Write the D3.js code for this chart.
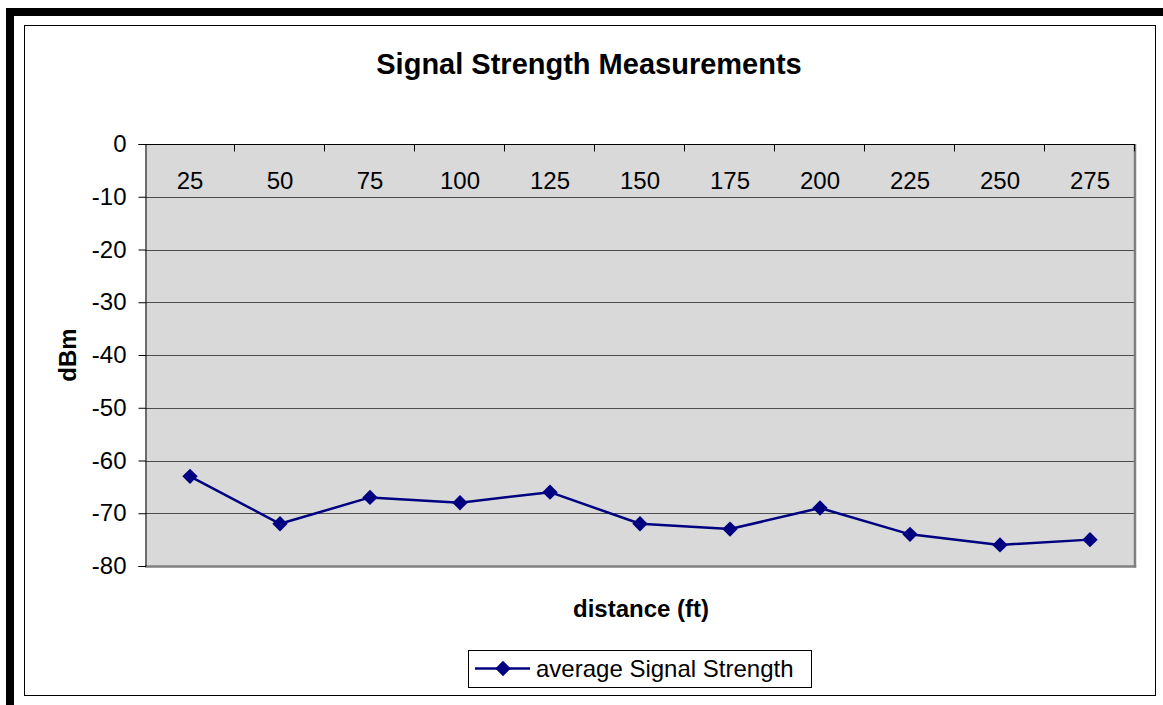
<!DOCTYPE html>
<html>
<head>
<meta charset="utf-8">
<script src="https://cdn.jsdelivr.net/npm/d3@7"></script>
<style>
  html, body { margin: 0; padding: 0; background: #fff; }
  svg { display: block; font-family: "Liberation Sans", Arial, sans-serif; }
</style>
</head>
<body>
<svg id="chart" width="1163" height="705"></svg>
<script>
// Average signal strength per measured distance
const distances = ["25", "50", "75", "100", "125", "150", "175", "200", "225", "250", "275"];
const signalDbm = [-63, -72, -67, -68, -66, -72, -73, -69, -74, -76, -75];
const yTicks = [0, -10, -20, -30, -40, -50, -60, -70, -80];
const seriesName = "average Signal Strength";

const svg = d3.select("#chart");
const W = 1163, H = 705;
const plot = { left: 145, top: 144, right: 1135, bottom: 566 };
const navy = "#000080";
const FONT = "Liberation Sans, Arial, sans-serif";

// outer thick frame (top and left edges)
svg.append("rect").attr("x", 6).attr("y", 8).attr("width", W - 6).attr("height", 8).attr("fill", "#000");
svg.append("rect").attr("x", 6).attr("y", 8).attr("width", 8).attr("height", H - 8).attr("fill", "#000");

// chart area border
svg.append("rect").attr("x", 24.5).attr("y", 25.5).attr("width", 1131).attr("height", 670)
  .attr("fill", "#fff").attr("stroke", "#000").attr("stroke-width", 1);

const x = d3.scaleBand().domain(distances).range([plot.left, plot.right]).paddingInner(0).paddingOuter(0);
const y = d3.scaleLinear().domain([-80, 0]).range([plot.bottom, plot.top]);
const cx = d => x(d) + x.bandwidth() / 2;

// plot background
svg.append("rect").attr("x", plot.left).attr("y", plot.top)
  .attr("width", plot.right - plot.left).attr("height", plot.bottom - plot.top)
  .attr("fill", "#d9d9d9");

// horizontal gridlines
svg.append("g").selectAll("line").data(yTicks.filter(d => d !== 0 && d !== -80)).join("line")
  .attr("x1", plot.left).attr("x2", plot.right)
  .attr("y1", d => Math.round(y(d)) + 0.5).attr("y2", d => Math.round(y(d)) + 0.5)
  .attr("stroke", "#4d4d4d").attr("stroke-width", 1);

// plot border: right and bottom in gray
svg.append("line").attr("x1", plot.right).attr("x2", plot.right).attr("y1", plot.top).attr("y2", plot.bottom + 1.5)
  .attr("stroke", "#808080").attr("stroke-width", 2.5);
svg.append("line").attr("x1", plot.left).attr("x2", plot.right + 1.2).attr("y1", plot.bottom + 0.5).attr("y2", plot.bottom + 0.5)
  .attr("stroke", "#808080").attr("stroke-width", 2.5);

// y axis
const yAxis = d3.axisLeft(y).tickValues(yTicks).tickSize(7).tickPadding(12)
  .tickFormat(d => String(d));
const gy = svg.append("g").attr("transform", `translate(${plot.left + 0.5},0)`).call(yAxis);
gy.select(".domain").attr("stroke", "#000");
gy.selectAll(".tick line").attr("stroke", "#000");
gy.selectAll(".tick text").attr("font-size", 24).attr("fill", "#000").attr("font-family", FONT);

// x axis sits at the value 0 line (top of plot), ticks at category boundaries
const gx = svg.append("g").attr("transform", `translate(0,${plot.top + 0.5})`);
gx.append("line").attr("x1", plot.left).attr("x2", plot.right).attr("y1", 0).attr("y2", 0)
  .attr("stroke", "#000").attr("stroke-width", 1);
const bounds = distances.map(d => x(d)).concat([plot.right]).slice(1);
gx.selectAll("line.tk").data(bounds).join("line").attr("class", "tk")
  .attr("x1", d => Math.round(d) - 0.5).attr("x2", d => Math.round(d) - 0.5)
  .attr("y1", 0).attr("y2", 7).attr("stroke", "#000");
gx.selectAll("text").data(distances).join("text")
  .attr("x", cx).attr("y", 44)
  .attr("text-anchor", "middle").attr("font-size", 24).attr("fill", "#000")
  .text(d => d);

// series line and diamond markers
const line = d3.line().x((d, i) => cx(distances[i])).y(d => y(d));
svg.append("path").datum(signalDbm).attr("d", line)
  .attr("fill", "none").attr("stroke", navy).attr("stroke-width", 2.5).attr("stroke-linejoin", "round");

const diamond = d3.symbol().type(d3.symbolSquare).size(118);
svg.append("g").selectAll("path").data(signalDbm).join("path")
  .attr("transform", (d, i) => `translate(${cx(distances[i])},${y(d)}) rotate(45)`)
  .attr("d", diamond)
  .attr("fill", navy);

// title and axis titles
svg.append("text").attr("x", 589).attr("y", 74).attr("text-anchor", "middle")
  .attr("font-size", 29).attr("font-weight", "bold").text("Signal Strength Measurements");
svg.append("text").attr("x", 641).attr("y", 617).attr("text-anchor", "middle")
  .attr("font-size", 24).attr("font-weight", "bold").text("distance (ft)");
svg.append("text").attr("transform", "translate(76,355) rotate(-90)").attr("text-anchor", "middle")
  .attr("font-size", 24).attr("font-weight", "bold").text("dBm");

// legend
const lg = svg.append("g");
lg.append("rect").attr("x", 468.5).attr("y", 650.5).attr("width", 343).attr("height", 37)
  .attr("fill", "#fff").attr("stroke", "#000").attr("stroke-width", 1);
lg.append("line").attr("x1", 475).attr("x2", 530).attr("y1", 668.5).attr("y2", 668.5)
  .attr("stroke", navy).attr("stroke-width", 2.5);
lg.append("path").attr("transform", "translate(503,668.5) rotate(45)")
  .attr("d", diamond).attr("fill", navy);
lg.append("text").attr("x", 536).attr("y", 677).attr("font-size", 24).text(seriesName);
</script>
</body>
</html>
